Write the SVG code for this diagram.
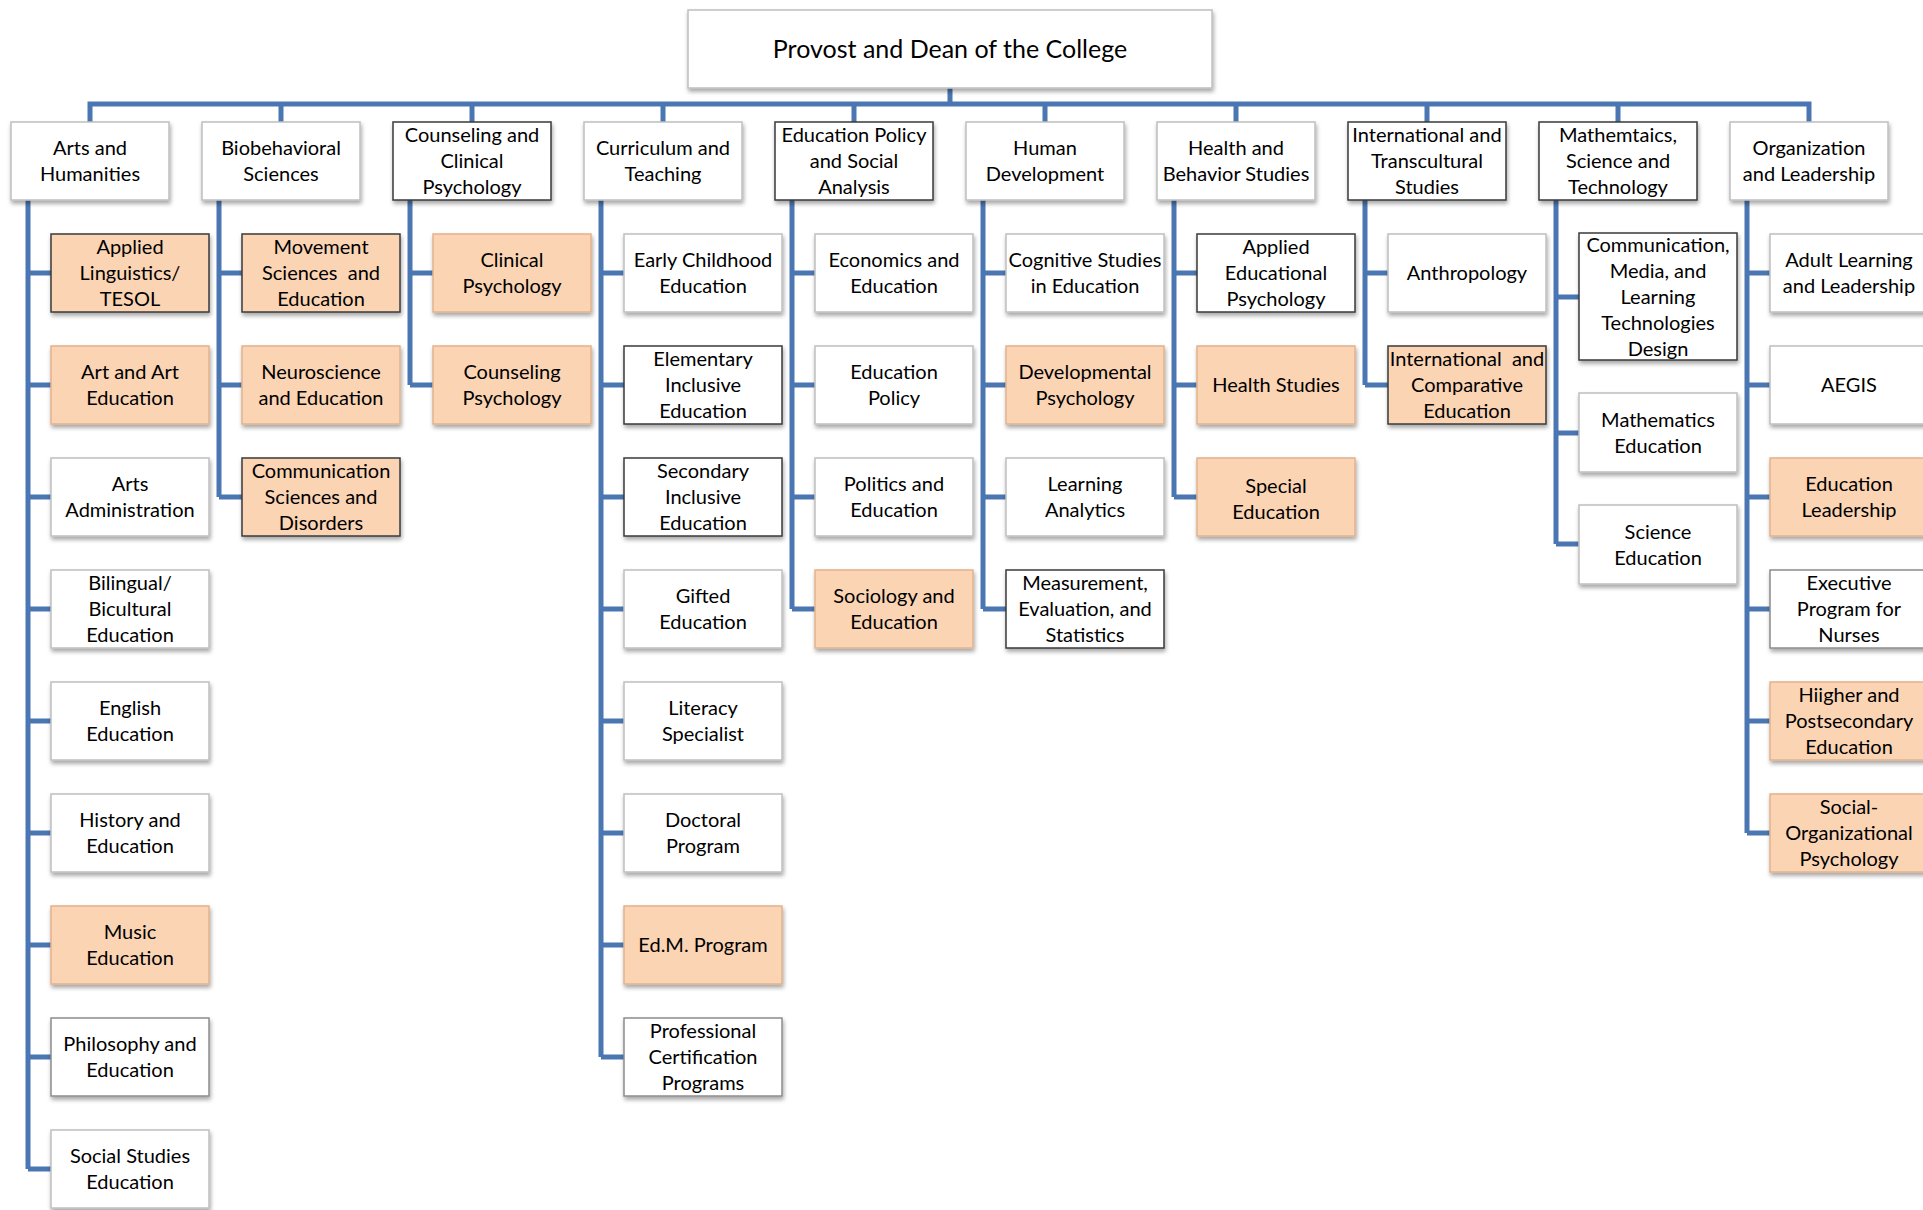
<svg xmlns="http://www.w3.org/2000/svg" width="1923" height="1210" viewBox="0 0 1923 1210">
<defs>
<filter id="sh" x="-10%" y="-10%" width="120%" height="130%">
<feDropShadow dx="1" dy="3" stdDeviation="2" flood-color="#000" flood-opacity="0.35"/>
</filter>
<style>
.b{fill:#fff;stroke:#BFBFBF;stroke-width:1.5;filter:url(#sh)}
.p{fill:#FBD4B4;stroke:#E2B38C}
.d{stroke:#3A3A3A}
.m{stroke:#8C8C8C}
text{font-family:Lato,"Liberation Sans",sans-serif;font-size:20px;text-anchor:middle;fill:#000}
.t{font-size:25px}
.c{fill:none;stroke:#4A76B2;stroke-width:5}
</style>
</defs>
<rect width="1923" height="1210" fill="#fff"/>
<g id="connectors">
<path class="c" d="M950,88V104M90,122V104H1809V122M281,104V122M472,104V122M663,104V122M854,104V122M1045,104V122M1236,104V122M1427,104V122M1618,104V122"/>
<path class="c" d="M28,200V1169M28,273H51M28,385H51M28,497H51M28,609H51M28,721H51M28,833H51M28,945H51M28,1057H51M28,1169H51"/>
<path class="c" d="M219,200V497M219,273H242M219,385H242M219,497H242"/>
<path class="c" d="M410,200V385M410,273H433M410,385H433"/>
<path class="c" d="M601,200V1057M601,273H624M601,385H624M601,497H624M601,609H624M601,721H624M601,833H624M601,945H624M601,1057H624"/>
<path class="c" d="M792,200V609M792,273H815M792,385H815M792,497H815M792,609H815"/>
<path class="c" d="M983,200V609M983,273H1006M983,385H1006M983,497H1006M983,609H1006"/>
<path class="c" d="M1174,200V497M1174,273H1197M1174,385H1197M1174,497H1197"/>
<path class="c" d="M1365,200V385M1365,273H1388M1365,385H1388"/>
<path class="c" d="M1556,200V544M1556,297H1579M1556,433H1579M1556,544H1579"/>
<path class="c" d="M1747,200V833M1747,273H1770M1747,385H1770M1747,497H1770M1747,609H1770M1747,721H1770M1747,833H1770"/>
</g>
<g id="provost"><rect class="b" x="688" y="10" width="524" height="78"/><text class="t" x="950" y="58">Provost and Dean of the College</text></g>
<g id="arts"><rect class="b" x="11" y="122" width="158" height="78"/><text x="90" y="155">Arts and</text><text x="90" y="181">Humanities</text></g>
<g id="biobehavioral"><rect class="b" x="202" y="122" width="158" height="78"/><text x="281" y="155">Biobehavioral</text><text x="281" y="181">Sciences</text></g>
<g id="counseling"><rect class="b d" x="393" y="122" width="158" height="78"/><text x="472" y="142">Counseling and</text><text x="472" y="168">Clinical</text><text x="472" y="194">Psychology</text></g>
<g id="curriculum"><rect class="b" x="584" y="122" width="158" height="78"/><text x="663" y="155">Curriculum and</text><text x="663" y="181">Teaching</text></g>
<g id="edpolicy"><rect class="b d" x="775" y="122" width="158" height="78"/><text x="854" y="142">Education Policy</text><text x="854" y="168">and Social</text><text x="854" y="194">Analysis</text></g>
<g id="humandev"><rect class="b" x="966" y="122" width="158" height="78"/><text x="1045" y="155">Human</text><text x="1045" y="181">Development</text></g>
<g id="health"><rect class="b" x="1157" y="122" width="158" height="78"/><text x="1236" y="155">Health and</text><text x="1236" y="181">Behavior Studies</text></g>
<g id="international"><rect class="b d" x="1348" y="122" width="158" height="78"/><text x="1427" y="142">International and</text><text x="1427" y="168">Transcultural</text><text x="1427" y="194">Studies</text></g>
<g id="math"><rect class="b d" x="1539" y="122" width="158" height="78"/><text x="1618" y="142">Mathemtaics,</text><text x="1618" y="168">Science and</text><text x="1618" y="194">Technology</text></g>
<g id="organization"><rect class="b" x="1730" y="122" width="158" height="78"/><text x="1809" y="155">Organization</text><text x="1809" y="181">and Leadership</text></g>

<g id="applied-linguistics"><rect class="b p d" x="51" y="234" width="158" height="78"/><text x="130" y="254">Applied</text><text x="130" y="280">Linguistics/</text><text x="130" y="306">TESOL</text></g>
<g id="art-education"><rect class="b p" x="51" y="346" width="158" height="78"/><text x="130" y="379">Art and Art</text><text x="130" y="405">Education</text></g>
<g id="arts-admin"><rect class="b" x="51" y="458" width="158" height="78"/><text x="130" y="491">Arts</text><text x="130" y="517">Administration</text></g>
<g id="bilingual"><rect class="b" x="51" y="570" width="158" height="78"/><text x="130" y="590">Bilingual/</text><text x="130" y="616">Bicultural</text><text x="130" y="642">Education</text></g>
<g id="english"><rect class="b" x="51" y="682" width="158" height="78"/><text x="130" y="715">English</text><text x="130" y="741">Education</text></g>
<g id="history"><rect class="b" x="51" y="794" width="158" height="78"/><text x="130" y="827">History and</text><text x="130" y="853">Education</text></g>
<g id="music"><rect class="b p" x="51" y="906" width="158" height="78"/><text x="130" y="939">Music</text><text x="130" y="965">Education</text></g>
<g id="philosophy"><rect class="b m" x="51" y="1018" width="158" height="78"/><text x="130" y="1051">Philosophy and</text><text x="130" y="1077">Education</text></g>
<g id="social-studies"><rect class="b" x="51" y="1130" width="158" height="78"/><text x="130" y="1163">Social Studies</text><text x="130" y="1189">Education</text></g>

<g id="movement"><rect class="b p d" x="242" y="234" width="158" height="78"/><text x="321" y="254">Movement</text><text x="321" y="280" xml:space="preserve">Sciences  and</text><text x="321" y="306">Education</text></g>
<g id="neuroscience"><rect class="b p" x="242" y="346" width="158" height="78"/><text x="321" y="379">Neuroscience</text><text x="321" y="405">and Education</text></g>
<g id="comm-sciences"><rect class="b p d" x="242" y="458" width="158" height="78"/><text x="321" y="478">Communication</text><text x="321" y="504">Sciences and</text><text x="321" y="530">Disorders</text></g>

<g id="clinical"><rect class="b p" x="433" y="234" width="158" height="78"/><text x="512" y="267">Clinical</text><text x="512" y="293">Psychology</text></g>
<g id="counseling-psych"><rect class="b p" x="433" y="346" width="158" height="78"/><text x="512" y="379">Counseling</text><text x="512" y="405">Psychology</text></g>

<g id="early-childhood"><rect class="b" x="624" y="234" width="158" height="78"/><text x="703" y="267">Early Childhood</text><text x="703" y="293">Education</text></g>
<g id="elementary"><rect class="b d" x="624" y="346" width="158" height="78"/><text x="703" y="366">Elementary</text><text x="703" y="392">Inclusive</text><text x="703" y="418">Education</text></g>
<g id="secondary"><rect class="b d" x="624" y="458" width="158" height="78"/><text x="703" y="478">Secondary</text><text x="703" y="504">Inclusive</text><text x="703" y="530">Education</text></g>
<g id="gifted"><rect class="b" x="624" y="570" width="158" height="78"/><text x="703" y="603">Gifted</text><text x="703" y="629">Education</text></g>
<g id="literacy"><rect class="b" x="624" y="682" width="158" height="78"/><text x="703" y="715">Literacy</text><text x="703" y="741">Specialist</text></g>
<g id="doctoral"><rect class="b" x="624" y="794" width="158" height="78"/><text x="703" y="827">Doctoral</text><text x="703" y="853">Program</text></g>
<g id="edm"><rect class="b p" x="624" y="906" width="158" height="78"/><text x="703" y="952">Ed.M. Program</text></g>
<g id="professional"><rect class="b m" x="624" y="1018" width="158" height="78"/><text x="703" y="1038">Professional</text><text x="703" y="1064">Certification</text><text x="703" y="1090">Programs</text></g>

<g id="economics"><rect class="b" x="815" y="234" width="158" height="78"/><text x="894" y="267">Economics and</text><text x="894" y="293">Education</text></g>
<g id="ed-policy"><rect class="b" x="815" y="346" width="158" height="78"/><text x="894" y="379">Education</text><text x="894" y="405">Policy</text></g>
<g id="politics"><rect class="b" x="815" y="458" width="158" height="78"/><text x="894" y="491">Politics and</text><text x="894" y="517">Education</text></g>
<g id="sociology"><rect class="b p" x="815" y="570" width="158" height="78"/><text x="894" y="603">Sociology and</text><text x="894" y="629">Education</text></g>

<g id="cognitive"><rect class="b" x="1006" y="234" width="158" height="78"/><text x="1085" y="267">Cognitive Studies</text><text x="1085" y="293">in Education</text></g>
<g id="developmental"><rect class="b p" x="1006" y="346" width="158" height="78"/><text x="1085" y="379">Developmental</text><text x="1085" y="405">Psychology</text></g>
<g id="learning-analytics"><rect class="b" x="1006" y="458" width="158" height="78"/><text x="1085" y="491">Learning</text><text x="1085" y="517">Analytics</text></g>
<g id="measurement"><rect class="b d" x="1006" y="570" width="158" height="78"/><text x="1085" y="590">Measurement,</text><text x="1085" y="616">Evaluation, and</text><text x="1085" y="642">Statistics</text></g>

<g id="applied-ed-psych"><rect class="b d" x="1197" y="234" width="158" height="78"/><text x="1276" y="254">Applied</text><text x="1276" y="280">Educational</text><text x="1276" y="306">Psychology</text></g>
<g id="health-studies"><rect class="b p" x="1197" y="346" width="158" height="78"/><text x="1276" y="392">Health Studies</text></g>
<g id="special-ed"><rect class="b p" x="1197" y="458" width="158" height="78"/><text x="1276" y="493">Special</text><text x="1276" y="519">Education</text></g>

<g id="anthropology"><rect class="b" x="1388" y="234" width="158" height="78"/><text x="1467" y="280">Anthropology</text></g>
<g id="intl-comparative"><rect class="b p d" x="1388" y="346" width="158" height="78"/><text x="1467" y="366" xml:space="preserve">International  and</text><text x="1467" y="392">Comparative</text><text x="1467" y="418">Education</text></g>

<g id="comm-media"><rect class="b d" x="1579" y="233" width="158" height="127"/><text x="1658" y="252">Communication,</text><text x="1658" y="278">Media, and</text><text x="1658" y="304">Learning</text><text x="1658" y="330">Technologies</text><text x="1658" y="356">Design</text></g>
<g id="math-ed"><rect class="b" x="1579" y="393" width="158" height="79"/><text x="1658" y="427">Mathematics</text><text x="1658" y="453">Education</text></g>
<g id="science-ed"><rect class="b" x="1579" y="505" width="158" height="79"/><text x="1658" y="539">Science</text><text x="1658" y="565">Education</text></g>

<g id="adult-learning"><rect class="b" x="1770" y="234" width="158" height="78"/><text x="1849" y="267">Adult Learning</text><text x="1849" y="293">and Leadership</text></g>
<g id="aegis"><rect class="b" x="1770" y="346" width="158" height="78"/><text x="1849" y="392">AEGIS</text></g>
<g id="ed-leadership"><rect class="b p" x="1770" y="458" width="158" height="78"/><text x="1849" y="491">Education</text><text x="1849" y="517">Leadership</text></g>
<g id="executive"><rect class="b m" x="1770" y="570" width="158" height="78"/><text x="1849" y="590">Executive</text><text x="1849" y="616">Program for</text><text x="1849" y="642">Nurses</text></g>
<g id="higher-ed"><rect class="b p" x="1770" y="682" width="158" height="78"/><text x="1849" y="702">Hiigher and</text><text x="1849" y="728">Postsecondary</text><text x="1849" y="754">Education</text></g>
<g id="social-org"><rect class="b p" x="1770" y="794" width="158" height="78"/><text x="1849" y="814">Social-</text><text x="1849" y="840">Organizational</text><text x="1849" y="866">Psychology</text></g>
</svg>
